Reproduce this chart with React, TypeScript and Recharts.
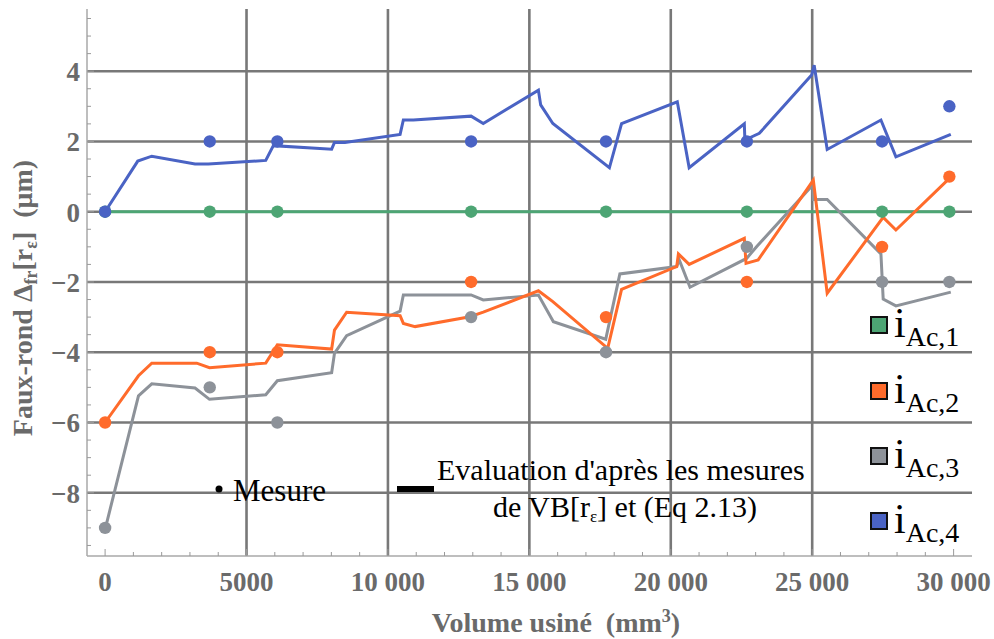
import { CartesianGrid, ComposedChart, Line, Scatter, XAxis, YAxis } from 'recharts';

// measured points (Mesure)
const measureVolumes = [0, 3700, 6090, 12940, 17710, 22690, 27470, 29850];
const measureAc1 = [0, 0, 0, 0, 0, 0, 0, 0];
const measureAc2 = [-6, -4, -4, -2, -3, -2, -1, 1];
const measureAc3 = [-9, -5, -6, -3, -4, -1, -2, -2];
const measureAc4 = [0, 2, 2, 2, 2, 2, 2, 3];

// evaluation from VB[r_eps] (Eq 2.13)
const evalAc1Volumes = [0, 29900];
const evalAc1 = [0, 0];

const evalAc2Volumes = [0, 1180, 1650, 3240, 3690, 5680, 6090, 8010, 8110, 8540, 10430, 10545, 10960, 12900, 13370, 15320, 15830, 17770, 18260, 20210, 20270, 20650, 22600, 22660, 23090, 25040, 25530, 27510, 27960, 29850];
const evalAc2 = [-6, -4.67, -4.31, -4.31, -4.44, -4.31, -3.79, -3.91, -3.37, -2.86, -2.96, -3.18, -3.27, -2.99, -2.86, -2.25, -2.56, -3.89, -2.21, -1.56, -1.2, -1.5, -0.76, -1.47, -1.37, 0.9, -2.32, -0.16, -0.52, 0.95];

const evalAc3Volumes = [0, 1180, 1650, 3180, 3690, 5680, 6090, 8010, 8110, 8540, 10430, 10545, 12940, 13370, 15320, 15850, 17700, 18200, 20210, 20300, 20680, 22680, 23040, 25020, 25040, 25530, 27430, 27510, 27960, 29900];
const evalAc3 = [-9.04, -5.24, -4.9, -5.02, -5.34, -5.21, -4.81, -4.58, -4.03, -3.53, -2.83, -2.37, -2.37, -2.51, -2.37, -3.13, -3.63, -1.77, -1.56, -1.37, -2.15, -1.33, -0.99, 0.76, 0.35, 0.35, -1.2, -2.49, -2.68, -2.29];

const evalAc4Volumes = [0, 1155, 1650, 3180, 3650, 5680, 5950, 8010, 8110, 8480, 10430, 10545, 10900, 12940, 13370, 15320, 15400, 15830, 17830, 18260, 20230, 20650, 22600, 22620, 23130, 24980, 25070, 25530, 27430, 27960, 29900];
const evalAc4 = [0, 1.44, 1.58, 1.36, 1.36, 1.46, 1.88, 1.78, 1.97, 1.97, 2.2, 2.61, 2.61, 2.72, 2.51, 3.46, 3.04, 2.51, 1.25, 2.51, 3.13, 1.25, 2.5, 2.04, 2.23, 3.89, 4.17, 1.77, 2.61, 1.56, 2.2];

const seriesNames = ['1', '2', '3', '4'];
const seriesColors = ['#4da574', '#ff6b2b', '#8d9299', '#4a63c4'];

const xMajorTicks = [0, 5000, 10000, 15000, 20000, 25000, 30000];
const xTickLabels = ['0', '5000', '10 000', '15 000', '20 000', '25 000', '30 000'];
const yMajorTicks = [-8, -6, -4, -2, 0, 2, 4];
const yTickLabels = ['\u22128', '\u22126', '\u22124', '\u22122', '0', '2', '4'];
const xGrid = [5000, 10000, 15000, 20000, 25000];
const yGrid = [-8, -6, -4, -2, 0, 2, 4];

const xAllTicks = Array.from({ length: 31 }, (_, i) => i * 1000);
const yAllTicks = Array.from({ length: 31 }, (_, i) => -9.5 + i * 0.5);

const zip = (xs: number[], ys: number[]) => xs.map((x, i) => ({ x, y: ys[i] }));

const lines = [
  zip(evalAc1Volumes, evalAc1),
  zip(evalAc2Volumes, evalAc2),
  zip(evalAc3Volumes, evalAc3),
  zip(evalAc4Volumes, evalAc4),
];
const points = [measureAc1, measureAc2, measureAc3, measureAc4].map(ys => zip(measureVolumes, ys));

const SERIF = '"Liberation Serif", "Times New Roman", serif';
const LABEL_GREY = '#6a6a6a';
const TICK_GREY = '#9a9a9a';

function BottomTick({ x, y, payload }: any) {
  const idx = xMajorTicks.indexOf(payload.value);
  const major = idx >= 0;
  return (
    <g>
      <line x1={x} x2={x} y1={y} y2={y - (major ? 7 : 4)} stroke={TICK_GREY} strokeWidth={1} />
      {major && (
        <text x={x} y={y + 35} textAnchor="middle" fontFamily={SERIF} fontWeight="bold" fontSize={27} fill={LABEL_GREY}>
          {xTickLabels[idx]}
        </text>
      )}
    </g>
  );
}

function TopTick({ x, y, payload }: any) {
  const major = xMajorTicks.includes(payload.value);
  return <line x1={x} x2={x} y1={y} y2={y + (major ? 7 : 4)} stroke={TICK_GREY} strokeWidth={1} />;
}

function LeftTick({ x, y, payload }: any) {
  const idx = yMajorTicks.indexOf(payload.value);
  const major = idx >= 0;
  return (
    <g>
      <line x1={x} x2={x + (major ? 7 : 4)} y1={y} y2={y} stroke={TICK_GREY} strokeWidth={1} />
      {major && (
        <text x={x - 7} y={y + 10} textAnchor="end" fontFamily={SERIF} fontWeight="bold" fontSize={27} fill={LABEL_GREY}>
          {yTickLabels[idx]}
        </text>
      )}
    </g>
  );
}

function RightTick({ x, y, payload }: any) {
  const major = yMajorTicks.includes(payload.value);
  return <line x1={x} x2={x - (major ? 7 : 4)} y1={y} y2={y} stroke={TICK_GREY} strokeWidth={1} />;
}

function Overlay() {
  const legendY = [325, 391, 456, 521];
  return (
    <svg width={994} height={639} style={{ position: 'absolute', left: 0, top: 0, pointerEvents: 'none' }}>
      <text transform="translate(32,298) rotate(-90)" textAnchor="middle" fontFamily={SERIF} fontWeight="bold" fontSize={28} fill={LABEL_GREY} xmlSpace="preserve">
        Faux-rond Δ<tspan fontSize={18} dy={5}>fr</tspan><tspan dy={-5}>[r</tspan><tspan fontSize={18} dy={5}>ε</tspan><tspan dy={-5}>]  (μm)</tspan>
      </text>
      <text x={556} y={632} textAnchor="middle" fontFamily={SERIF} fontWeight="bold" fontSize={28} fill={LABEL_GREY} xmlSpace="preserve">
        Volume usiné  (mm<tspan fontSize={18} dy={-10}>3</tspan><tspan dy={10}>)</tspan>
      </text>

      <circle cx={219} cy={489} r={3.5} fill="#000" />
      <text x={233} y={501} fontFamily={SERIF} fontSize={31} fill="#000">Mesure</text>
      <rect x={397} y={486} width={37} height={6} fill="#000" />
      <text x={437} y={480} fontFamily={SERIF} fontSize={30} fill="#000">Evaluation d'après les mesures</text>
      <text x={493} y={517} fontFamily={SERIF} fontSize={30} fill="#000">
        de VB[r<tspan fontSize={17} dy={5}>ε</tspan><tspan dy={-5}>] et (Eq 2.13)</tspan>
      </text>

      {seriesNames.map((name, i) => (
        <g key={name}>
          <rect x={871} y={legendY[i] - 8} width={16} height={16} fill={seriesColors[i]} stroke="#111" strokeWidth={2} />
          <text x={894} y={legendY[i] + 12} fontFamily={SERIF} fontSize={42} fill="#000">
            i<tspan fontSize={28} dy={9}>Ac,{name}</tspan>
          </text>
        </g>
      ))}
    </svg>
  );
}

export default function App() {
  return (
    <div style={{ position: 'absolute', left: 0, top: 0, width: 994, height: 639, background: '#fff' }}>
      <ComposedChart width={994} height={639} margin={{ top: 9, right: 22, bottom: 0, left: 0 }}>
        <XAxis xAxisId="b" dataKey="x" type="number" domain={[-640, 30650]} allowDataOverflow ticks={xAllTicks} interval={0}
          height={83} tickSize={0} tickMargin={0} tickLine={false} tick={<BottomTick />} axisLine={{ stroke: '#a8a8a8', strokeWidth: 1.5 }} />
        <XAxis xAxisId="t" orientation="top" dataKey="x" type="number" domain={[-640, 30650]} allowDataOverflow ticks={xAllTicks} interval={0}
          height={0} tickSize={0} tickMargin={0} tickLine={false} tick={<TopTick />} axisLine={{ stroke: '#a8a8a8', strokeWidth: 1.5 }} />
        <YAxis yAxisId="l" type="number" domain={[-9.8, 5.77]} allowDataOverflow ticks={yAllTicks} interval={0}
          width={87} tickSize={0} tickMargin={0} tickLine={false} tick={<LeftTick />} axisLine={{ stroke: '#a8a8a8', strokeWidth: 1.5 }} />
        <YAxis yAxisId="r" orientation="right" type="number" domain={[-9.8, 5.77]} allowDataOverflow ticks={yAllTicks} interval={0}
          width={0} tickSize={0} tickMargin={0} tickLine={false} tick={<RightTick />} axisLine={{ stroke: '#a8a8a8', strokeWidth: 1.5 }} />
        <CartesianGrid xAxisId="b" yAxisId="l" horizontalValues={yGrid} verticalValues={xGrid} stroke="#787878" strokeWidth={2.6} />
        {[0, 2, 1, 3].map(i => (
          <Line key={'l' + i} xAxisId="b" yAxisId="l" data={lines[i]} dataKey="y" type="linear" stroke={seriesColors[i]}
            strokeWidth={3} dot={false} activeDot={false} isAnimationActive={false} />
        ))}
        {[0, 1, 2, 3].map(i => (
          <Scatter key={'s' + i} xAxisId="b" yAxisId="l" data={points[i]} dataKey="y" fill={seriesColors[i]} isAnimationActive={false}
            shape={(p: any) => <circle cx={p.cx} cy={p.cy} r={6.2} fill={seriesColors[i]} />} />
        ))}
      </ComposedChart>
      <Overlay />
    </div>
  );
}
